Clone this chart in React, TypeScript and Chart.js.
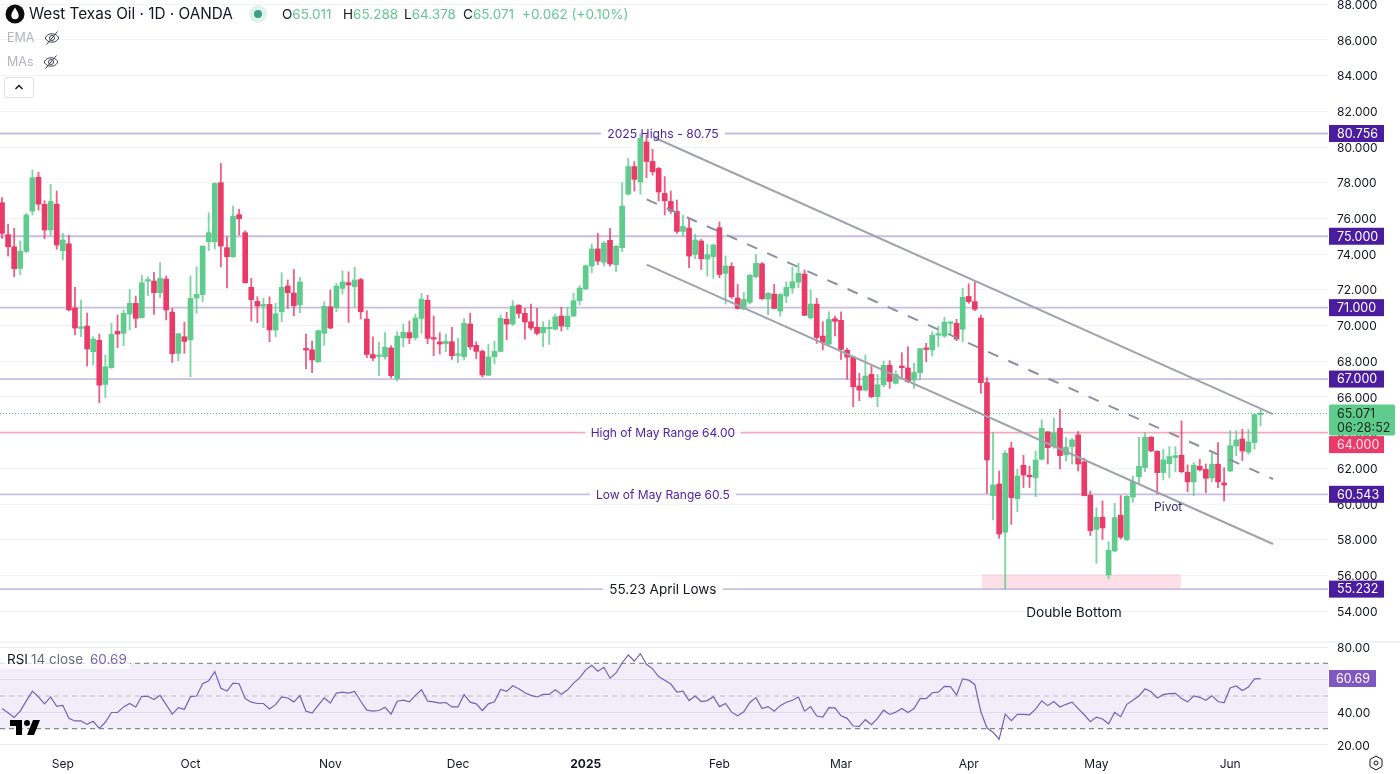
import React, { useEffect, useRef } from "react";
import { Chart, registerables } from "chart.js";

Chart.register(...registerables);

const FONT = "Inter, 'Noto Sans', sans-serif";
const GREEN = "#5fcb8c";
const RED = "#e93a68";
const PURPLE_TAG = "#4a1c9e";

// OHLC per trading day, Aug 2024 - Jun 2025
const opens = [
  76.88, 75.09, 74.41, 73.2, 74.15, 76.41, 78.3, 76.79, 75.35, 76.8,
  74.19, 74.58, 70.98, 69.84, 69.97, 68.53, 69.17, 66.7, 67.64, 69.67,
  69.56, 70.64, 71.24, 70.44, 72.49, 72.49, 71.84, 72.6, 70.75, 68.44,
  69.37, 69.2, 71.54, 71.73, 74.69, 74.69, 78.0, 74.36, 73.85, 76.21,
  75.2, 72.14, 71.35, 71.09, 71.18, 69.75, 70.77, 72.21, 71.82, 71.15,
  68.7, 68.64, 67.97, 69.56, 71.05, 71.0, 72.08, 72.4, 72.18, 72.57,
  70.36, 68.37, 68.27, 68.25, 68.74, 67.04, 69.3, 69.6, 69.32, 70.4,
  71.41, 69.3, 69.08, 68.98, 69.09, 68.33, 68.25, 70.08, 68.89, 68.55,
  67.21, 68.25, 68.55, 70.35, 70.08, 71.13, 70.68, 70.21, 69.9, 69.6,
  69.82, 69.79, 70.53, 69.93, 70.53, 71.39, 72.04, 73.33, 74.29, 73.54,
  74.77, 73.41, 74.36, 77.36, 78.9, 78.04, 80.28, 79.19, 78.8, 77.4,
  76.95, 76.39, 75.27, 75.46, 73.98, 74.73, 73.72, 73.85, 75.48, 72.92,
  73.31, 71.54, 70.92, 71.3, 72.73, 73.46, 71.48, 71.76, 70.81, 71.65,
  72.1, 72.43, 72.88, 70.44, 71.2, 69.41, 68.96, 70.38, 70.29, 68.61,
  68.23, 66.61, 66.38, 67.26, 66.01, 66.68, 67.77, 66.76, 67.73, 67.62,
  66.94, 67.36, 68.72, 68.63, 69.46, 69.41, 70.12, 70.12, 69.79, 71.63,
  71.34, 70.42, 66.8, 60.47, 61.12, 58.42, 63.14, 60.3, 62.17, 61.61,
  61.48, 62.51, 64.04, 63.22, 64.24, 62.75, 63.22, 63.87, 62.36, 60.49,
  58.58, 59.26, 56.03, 57.37, 59.37, 58.0, 60.39, 61.53, 62.04, 63.75,
  62.95, 61.76, 62.26, 62.6, 62.73, 61.78, 61.24, 62.11, 61.94, 61.46,
  62.23, 61.18, 61.85, 63.25, 63.64, 62.91, 63.44, 65.011,
];
const highs = [
  77.16, 75.68, 75.44, 74.75, 76.28, 78.71, 78.58, 76.99, 77.91, 77.53,
  75.16, 75.05, 72.14, 71.43, 70.7, 69.37, 69.52, 68.35, 70.12, 70.59,
  70.87, 72.02, 71.65, 72.81, 72.73, 72.98, 73.52, 72.77, 70.96, 69.56,
  70.18, 72.77, 73.29, 74.47, 76.32, 78.0, 79.08, 74.97, 76.69, 76.51,
  75.31, 72.64, 71.61, 71.52, 71.61, 71.24, 72.96, 72.55, 73.14, 72.7,
  69.52, 69.13, 69.75, 71.33, 71.99, 72.36, 73.07, 73.01, 73.26, 72.64,
  70.83, 69.37, 69.06, 69.6, 68.87, 69.65, 70.08, 70.25, 70.64, 71.8,
  71.69, 70.53, 69.6, 69.52, 69.9, 69.28, 70.38, 70.68, 69.09, 68.63,
  68.94, 69.13, 70.59, 70.74, 71.39, 71.17, 70.96, 71.2, 70.96, 70.21,
  70.31, 70.64, 71.02, 71.02, 71.8, 72.23, 73.39, 74.57, 75.16, 74.7,
  75.44, 74.47, 78.0, 79.36, 79.18, 80.75, 80.67, 79.87, 78.86, 78.34,
  77.53, 77.03, 76.19, 76.0, 75.12, 74.82, 74.56, 74.56, 75.8, 73.89,
  73.52, 72.3, 71.86, 72.88, 73.98, 73.52, 71.86, 72.3, 71.8, 72.45,
  73.26, 73.48, 73.11, 71.99, 71.52, 70.21, 70.77, 70.53, 70.77, 68.72,
  68.25, 67.32, 68.35, 67.73, 67.26, 68.01, 68.03, 67.47, 68.48, 68.81,
  67.88, 68.72, 69.0, 69.65, 69.95, 70.46, 70.2, 70.35, 72.08, 72.33,
  72.44, 70.59, 67.08, 64.02, 61.85, 62.99, 63.46, 61.95, 62.73, 62.13,
  62.97, 64.71, 64.06, 64.82, 65.31, 63.72, 63.68, 64.06, 62.56, 60.73,
  59.8, 60.17, 57.89, 60.04, 60.47, 60.47, 61.57, 63.74, 64.0, 63.77,
  62.99, 63.07, 63.22, 63.22, 64.65, 62.19, 62.32, 62.5, 62.24, 62.84,
  63.44, 62.04, 64.11, 64.11, 64.18, 64.18, 65.05, 65.288,
];
const lows = [
  74.88, 73.89, 72.73, 72.85, 74.08, 76.19, 76.47, 74.86, 75.05, 74.27,
  73.67, 70.81, 69.47, 69.37, 67.73, 67.79, 65.68, 65.97, 67.6, 68.76,
  68.87, 69.75, 69.88, 70.42, 71.67, 70.62, 71.56, 70.31, 67.93, 68.03,
  68.44, 67.13, 70.68, 71.33, 74.19, 74.28, 73.29, 72.1, 73.82, 75.07,
  72.36, 70.25, 70.16, 69.88, 69.09, 69.37, 70.21, 70.96, 70.55, 70.72,
  67.58, 67.36, 67.93, 68.89, 69.82, 70.77, 71.76, 70.18, 71.02, 70.36,
  68.2, 68.03, 67.19, 68.12, 67.06, 66.89, 68.81, 68.98, 69.19, 69.56,
  68.98, 68.31, 68.4, 68.53, 68.1, 67.92, 68.1, 68.66, 68.14, 67.11,
  67.19, 67.84, 68.52, 69.19, 69.99, 70.42, 69.24, 69.75, 69.47, 68.81,
  68.94, 69.75, 69.69, 69.77, 70.49, 71.15, 72.02, 72.96, 73.41, 73.33,
  73.33, 73.02, 74.13, 77.31, 77.53, 77.35, 78.28, 78.43, 76.97, 76.19,
  76.28, 75.16, 75.01, 73.24, 73.74, 73.14, 72.77, 72.64, 72.68, 71.2,
  71.52, 70.92, 70.9, 71.2, 72.66, 71.46, 70.6, 70.92, 70.53, 71.28,
  71.8, 72.12, 70.55, 70.36, 69.0, 68.63, 68.91, 69.41, 68.1, 67.0,
  65.45, 65.79, 66.33, 65.95, 65.45, 66.57, 66.48, 66.72, 67.04, 66.8,
  66.48, 66.98, 67.97, 68.29, 68.81, 69.33, 69.47, 69.15, 69.08, 71.24,
  70.83, 66.2, 60.6, 59.11, 58.08, 55.23, 58.86, 59.57, 60.92, 60.92,
  60.41, 62.47, 62.24, 63.12, 61.96, 62.41, 62.24, 61.85, 60.45, 58.23,
  56.68, 58.02, 55.82, 57.31, 58.04, 57.95, 60.1, 61.12, 61.81, 62.93,
  60.56, 61.35, 61.48, 61.81, 61.76, 60.69, 60.47, 61.85, 60.64, 61.24,
  60.92, 60.17, 61.81, 62.71, 62.43, 62.79, 63.07, 64.378,
];
const closes = [
  75.16, 74.41, 73.18, 74.17, 76.19, 78.28, 76.8, 75.35, 76.95, 74.51,
  74.79, 70.87, 69.86, 69.91, 68.68, 69.24, 66.66, 67.69, 69.5, 69.52,
  70.68, 71.24, 70.4, 72.4, 72.55, 71.84, 72.64, 70.87, 68.42, 69.54,
  69.11, 71.52, 71.74, 74.45, 75.2, 77.96, 74.45, 73.85, 76.13, 75.98,
  72.4, 71.45, 71.09, 71.15, 69.75, 70.66, 72.14, 71.84, 71.11, 72.44,
  68.63, 68.07, 69.71, 71.07, 69.86, 72.21, 72.44, 72.27, 72.55, 70.77,
  68.38, 68.18, 68.31, 68.78, 67.19, 69.41, 69.62, 69.3, 70.42, 71.47,
  69.28, 69.24, 68.96, 69.11, 68.31, 68.37, 70.12, 68.81, 68.55, 67.23,
  68.24, 68.55, 70.4, 70.08, 71.09, 70.68, 70.2, 69.86, 69.56, 69.9,
  69.9, 70.49, 69.97, 70.53, 71.39, 72.1, 73.35, 74.29, 73.61, 74.62,
  73.45, 74.45, 76.69, 78.9, 78.19, 80.48, 79.19, 78.62, 77.48, 76.99,
  76.41, 75.27, 75.55, 73.89, 74.79, 73.74, 73.97, 74.51, 72.86, 73.33,
  71.61, 70.96, 71.46, 72.81, 73.48, 71.5, 71.8, 70.96, 71.74, 72.14,
  72.45, 72.92, 70.57, 71.2, 69.33, 69.05, 70.34, 70.23, 68.66, 68.23,
  66.57, 66.38, 67.17, 66.01, 66.68, 67.77, 66.87, 67.26, 67.64, 66.85,
  67.37, 68.7, 68.66, 69.45, 69.48, 70.19, 70.18, 69.24, 71.58, 71.34,
  70.91, 66.8, 62.47, 61.07, 58.32, 62.84, 60.36, 61.57, 61.63, 61.53,
  62.47, 64.24, 63.16, 63.98, 62.71, 63.18, 63.59, 62.24, 60.47, 58.51,
  59.26, 58.66, 57.41, 59.24, 58.14, 60.43, 61.24, 62.11, 63.74, 62.97,
  61.76, 62.47, 62.66, 62.71, 61.81, 61.24, 62.17, 61.91, 61.44, 62.23,
  61.24, 61.07, 63.27, 63.59, 62.97, 63.48, 65.01, 65.071,
];
const rsiValues = [
  42.3, 39.7, 36.9, 40.7, 47.0, 53.0, 49.4, 45.2, 49.4, 43.7,
  44.3, 36.3, 34.7, 34.7, 32.6, 34.5, 30.2, 33.9, 39.9, 39.9,
  43.3, 45.4, 43.3, 49.8, 49.8, 47.8, 50.4, 44.7, 38.9, 42.9,
  41.9, 49.6, 50.0, 57.5, 59.3, 64.9, 54.7, 53.0, 57.9, 57.5,
  48.4, 46.2, 45.4, 45.4, 42.1, 44.7, 49.4, 48.8, 46.4, 50.2,
  40.7, 39.5, 44.3, 48.8, 45.6, 51.8, 52.4, 51.8, 52.8, 46.8,
  41.3, 40.7, 41.1, 43.1, 38.9, 46.8, 47.4, 46.4, 50.4, 53.8,
  46.8, 46.4, 45.6, 46.0, 43.3, 43.3, 50.8, 46.2, 45.2, 41.1,
  45.2, 46.4, 54.0, 52.8, 56.3, 54.4, 52.0, 50.4, 49.4, 51.0,
  51.0, 53.8, 51.0, 53.6, 57.9, 61.1, 66.0, 68.8, 65.2, 67.6,
  60.9, 64.1, 70.2, 75.1, 71.4, 75.9, 69.4, 66.6, 61.9, 59.7,
  57.3, 52.4, 53.0, 47.2, 50.0, 46.6, 47.2, 49.6, 43.5, 45.4,
  40.1, 37.9, 40.3, 46.0, 49.0, 42.3, 43.5, 40.7, 44.1, 46.2,
  47.4, 49.4, 40.7, 43.5, 37.7, 37.1, 42.9, 42.7, 37.9, 36.3,
  31.6, 31.4, 35.5, 32.4, 36.3, 41.3, 38.7, 40.1, 42.3, 39.9,
  42.3, 48.4, 48.4, 52.0, 52.4, 55.9, 55.7, 50.6, 60.5, 59.7,
  57.1, 40.3, 30.4, 27.8, 23.5, 38.9, 34.9, 38.7, 38.7, 38.5,
  41.9, 47.0, 44.1, 46.6, 43.3, 44.9, 46.2, 42.3, 38.5, 34.3,
  37.1, 35.9, 33.0, 39.9, 37.3, 44.9, 47.4, 50.0, 54.4, 52.6,
  48.8, 50.8, 51.4, 51.6, 48.4, 46.4, 50.0, 49.2, 47.4, 50.2,
  46.6, 45.8, 54.9, 56.1, 53.3, 55.5, 60.5, 60.69,
];

const priceTicks = [54, 56, 58, 60, 62, 64, 66, 68, 70, 72, 74, 76, 78, 80, 82, 84, 86, 88];
const rsiTicks = [20, 40, 60, 80];
const monthBars = [10, 31, 54, 75, 96, 118, 138, 159, 180, 202];
const monthLabels = ["Sep", "Oct", "Nov", "Dec", "2025", "Feb", "Mar", "Apr", "May", "Jun"];

const purpleLevels = [80.756, 75, 71, 67, 60.543, 55.232];
const mayHigh = 64;
const lastClose = 65.071;
const lastRsi = 60.69;

// [bar, price] ends of the hand drawn channel
const upperTrend = [[107.07, 80.56], [209.05, 65.04]];
const midTrend = [[106.03, 77.07], [209.05, 61.4]];
const lowerTrend = [[106.03, 73.41], [209.05, 57.76]];

// bars are 6.08px apart, first one sits 2px in from the left
const xMin = -0.329;
const xMax = 218.09;
const labelBar = 108.7;

const bars = opens.map((_, i) => i);
const hLine = (y: number, from = xMin, to = xMax) => [
  { x: from, y },
  { x: to, y },
];
// level line with a hole where its label sits
const gapLine = (y: number, half: number) => [
  { x: xMin, y },
  { x: labelBar - half, y },
  { x: labelBar, y: null },
  { x: labelBar + half, y },
  { x: xMax, y },
];

const levelGaps: Record<number, number> = { 80.756: 10.2, 60.543: 12, 55.232: 9.9 };

// the default fit reserves room for the outer tick labels, we want the full canvas
const fitAxis = (s: any) => {
  s.width = 72;
  s.paddingTop = 0;
  s.paddingBottom = 0;
};

const text = (ctx: any, s: string, x: number, y: number, font: string, color: string, align = "center") => {
  ctx.font = font;
  ctx.fillStyle = color;
  ctx.textAlign = align;
  ctx.textBaseline = "middle";
  ctx.fillText(s, x, y);
};

const tag = (ctx: any, y: number, s: string, bg: string, color: string, w = 55) => {
  ctx.fillStyle = bg;
  ctx.fillRect(1329, y - 8.5, w, 17);
  text(ctx, s, 1337, y + 0.5, `12.5px ${FONT}`, color, "left");
};

const priceOverlay = {
  id: "priceOverlay",
  afterDraw(chart: any) {
    const { ctx, scales } = chart;
    const px = (b: number) => scales.x.getPixelForValue(b);
    const py = (p: number) => scales.y.getPixelForValue(p) + 0.8;
    ctx.save();
    const purple = "#4f23a8";
    text(ctx, "2025 Highs - 80.75", px(labelBar), py(80.756), `12.2px ${FONT}`, purple);
    text(ctx, "High of May Range 64.00", px(labelBar), py(mayHigh), `12px ${FONT}`, purple);
    text(ctx, "Low of May Range 60.5", px(labelBar), py(60.543), `12px ${FONT}`, purple);
    text(ctx, "55.23 April Lows", px(labelBar), py(55.232), `13.5px ${FONT}`, "#131722");
    text(ctx, "Double Bottom", px(176.3), py(53.95), `13.7px ${FONT}`, "#131722");
    text(ctx, "Pivot", px(191.8), py(59.83), `12px ${FONT}`, "#2b2f6b");

    purpleLevels.forEach((p) => tag(ctx, py(p) - 0.8, p.toFixed(3), PURPLE_TAG, "#fff"));
    tag(ctx, py(mayHigh) + 11.2, mayHigh.toFixed(3), RED, "#ffe3ea");
    const y = py(lastClose);
    ctx.fillStyle = GREEN;
    ctx.beginPath();
    ctx.roundRect(1329, y - 9.8, 66, 31, 2);
    ctx.fill();
    text(ctx, lastClose.toFixed(3), 1337, y, `12.5px ${FONT}`, "#0c2c18", "left");
    text(ctx, "06:28:52", 1337, y + 14, `12.5px ${FONT}`, "#0c2c18", "left");
    ctx.restore();
  },
};

const rsiOverlay = {
  id: "rsiOverlay",
  afterDraw(chart: any) {
    const y = chart.scales.y.getPixelForValue(lastRsi);
    const { ctx } = chart;
    ctx.save();
    ctx.fillStyle = "#7e57c2";
    ctx.fillRect(1329, y - 8.5, 47, 17);
    text(ctx, lastRsi.toFixed(2), 1336, y + 0.5, `12.5px ${FONT}`, "#fff", "left");
    ctx.restore();
  },
};

const trendLines = (trend: any) => [
  trend(upperTrend),
  trend(midTrend, { borderDash: [11, 11], borderColor: "#8c90a0" }),
  trend(lowerTrend),
];

const PriceChart = () => {
  const ref = useRef<HTMLCanvasElement>(null);
  useEffect(() => {
    const trendStyle = { type: "line", pointRadius: 0, borderColor: "#a0a3ad", borderWidth: 2, order: 0 };
    const trend = (pts: number[][], extra = {}) => ({
      ...trendStyle,
      data: pts.map(([x, y]) => ({ x, y })),
      ...extra,
    });
    const colors = closes.map((c, i) => (c >= opens[i] ? GREEN : RED));
    const wickColors = closes.map((c, i) => (c >= opens[i] ? "rgba(95,203,140,.8)" : "rgba(233,58,104,.8)"));
    const chart = new Chart(ref.current as any, {
      type: "bar",
      data: {
        datasets: [
          ...trendLines(trend),
          {
            data: bars.map((x) => ({ x, y: [opens[x], closes[x]] })),
            backgroundColor: colors,
            barThickness: 5,
            minBarLength: 1.5,
            grouped: false,
            order: 2,
          },
          {
            data: bars.map((x) => ({ x, y: [lows[x], highs[x]] })),
            backgroundColor: wickColors,
            barThickness: 1.2,
            grouped: false,
            order: 3,
          },
          ...purpleLevels.map((p) => ({
            type: "line",
            data: levelGaps[p] ? gapLine(p, levelGaps[p]) : hLine(p),
            borderColor: "#c8bde2",
            borderWidth: 1.8,
            pointRadius: 0,
            spanGaps: false,
            order: 5,
          })),
          {
            type: "line",
            data: gapLine(mayHigh, 12.8),
            borderColor: "#f3aabd",
            borderWidth: 1.6,
            pointRadius: 0,
            order: 5,
          },
          {
            type: "line",
            data: hLine(lastClose),
            borderColor: "#45c47c",
            borderWidth: 1,
            borderDash: [1, 2],
            pointRadius: 0,
            order: 5,
          },
          {
            // pink double bottom zone
            type: "line",
            data: hLine(56.06, 161.2, 193.9),
            borderWidth: 0,
            pointRadius: 0,
            fill: { value: 55.232 },
            backgroundColor: "rgba(242,54,105,.16)",
            order: 6,
          },
        ] as any,
      },
      options: {
        responsive: false,
        animation: false,
        events: [],
        layout: { padding: 0, autoPadding: false },
        plugins: { legend: { display: false }, tooltip: { enabled: false } },
        scales: {
          x: { type: "linear", display: false, min: xMin, max: xMax, offset: false, bounds: "data", grid: { display: false } },
          y: {
            position: "right",
            min: 52.27,
            max: 88.235,
            bounds: "data",
            afterBuildTicks: (s: any) => {
              s.ticks = priceTicks.map((value) => ({ value }));
            },
            afterFit: fitAxis,
            grid: { color: "#f2f3f6", drawTicks: false },
            border: { display: false },
            ticks: {
              padding: 9,
              labelOffset: 1,
              autoSkip: false,
              color: "#131722",
              font: { family: FONT, size: 12 },
              callback: (v: any) => Number(v).toFixed(3),
            },
          },
        } as any,
      },
      plugins: [priceOverlay],
    } as any);
    return () => chart.destroy();
  }, []);
  return <canvas ref={ref} width={1400} height={642} style={{ position: "absolute", left: 0, top: 0 }} />;
};

const RsiChart = () => {
  const ref = useRef<HTMLCanvasElement>(null);
  useEffect(() => {
    const dashed = (y: number, color: string) => ({
      type: "line",
      data: hLine(y),
      borderColor: color,
      borderWidth: 1.2,
      borderDash: [5, 4],
      pointRadius: 0,
      order: 3,
    });
    const chart = new Chart(ref.current as any, {
      type: "line",
      data: {
        datasets: [
          {
            data: bars.map((x) => ({ x, y: rsiValues[x] })),
            borderColor: "#7363b4",
            borderWidth: 1.2,
            pointRadius: 0,
            tension: 0,
            order: 1,
          },
          dashed(70, "#8f9099"),
          dashed(50, "#bdbec6"),
          dashed(30, "#85868f"),
          {
            data: hLine(70),
            borderWidth: 0,
            pointRadius: 0,
            fill: { value: 30 },
            backgroundColor: "rgba(126,87,194,.1)",
            order: 5,
          },
        ] as any,
      },
      options: {
        responsive: false,
        animation: false,
        events: [],
        layout: { padding: 0, autoPadding: false },
        plugins: { legend: { display: false }, tooltip: { enabled: false } },
        scales: {
          x: {
            type: "linear",
            min: xMin,
            max: xMax,
            bounds: "data",
            afterBuildTicks: (s: any) => {
              s.ticks = monthBars.map((value) => ({ value }));
            },
            afterFit: (s: any) => {
              s.height = 22;
              s.paddingLeft = 0;
              s.paddingRight = 0;
            },
            grid: { display: false, drawTicks: false },
            border: { display: false },
            ticks: {
              padding: 5,
              autoSkip: false,
              maxRotation: 0,
              color: "#131722",
              font: (c: any) => ({
                family: FONT,
                size: 12,
                weight: c.tick && c.tick.value === 96 ? "bold" : "normal",
              }),
              callback: (v: any) => monthLabels[monthBars.indexOf(Number(v))],
            },
          },
          y: {
            position: "right",
            min: 15.7,
            max: 82.45,
            bounds: "data",
            afterBuildTicks: (s: any) => {
              s.ticks = rsiTicks.map((value) => ({ value }));
            },
            afterFit: fitAxis,
            grid: { color: "#ecebf2", drawTicks: false },
            border: { display: false },
            ticks: {
              padding: 9,
              labelOffset: 1,
              autoSkip: false,
              color: "#131722",
              font: { family: FONT, size: 12 },
              callback: (v: any) => Number(v).toFixed(2),
            },
          },
        } as any,
      },
      plugins: [rsiOverlay],
    } as any);
    return () => chart.destroy();
  }, []);
  return <canvas ref={ref} width={1400} height={131} style={{ position: "absolute", left: 0, top: 643 }} />;
};

const Label = ({ x, y, size = 13.5, color = "#131722", children }: any) => (
  <span
    style={{
      position: "absolute",
      left: x,
      top: y - 10,
      lineHeight: "20px",
      fontSize: size,
      color,
      whiteSpace: "nowrap",
    }}
  >
    {children}
  </span>
);

const EyeOff = ({ x, y }: any) => (
  <svg width="18" height="18" viewBox="0 0 18 18" style={{ position: "absolute", left: x - 9, top: y - 9 }} fill="none" stroke="#3f434e" strokeWidth="1">
    <path d="M2 9C3.8 6 6 4.8 9 4.8S14.2 6 16 9C14.200 12 12 13.200 9 13.200S3.800 12 2 9Z" />
    <circle cx="9" cy="9" r="2.5" />
    <path d="M14.500 2.500L3.500 15.500" />
  </svg>
);

const App = () => {
  const up = "#63c792";
  return (
    <div style={{ position: "absolute", left: 0, top: 0, width: 1400, height: 774, background: "#fff", overflow: "hidden", fontFamily: FONT }}>
      <PriceChart />
      <div style={{ position: "absolute", left: 0, top: 641, width: 1400, height: 2, background: "#f0f3fa" }} />
      <RsiChart />

      <svg width="20" height="20" viewBox="0 0 20 20" style={{ position: "absolute", left: 5, top: 4 }}>
        <circle cx="10" cy="10" r="9.5" fill="#0b0b0b" />
        <path d="M10 3.5C12.2 7 13.7 9 13.7 11.5A3.7 3.7 0 0 1 6.3 11.5C6.3 9 7.8 7 10 3.5Z" fill="#fff" />
      </svg>
      <Label x={29} y={14} size={15.3}>West Texas Oil · 1D · OANDA</Label>
      <div style={{ position: "absolute", left: 249, top: 5, width: 18, height: 18, borderRadius: 9, background: "#dff3ec" }} />
      <div style={{ position: "absolute", left: 254, top: 10, width: 8, height: 8, borderRadius: 4, background: "#3f9f86" }} />
      <Label x={282} y={14}>O<span style={{ color: up }}>65.011</span></Label>
      <Label x={343} y={14}>H<span style={{ color: up }}>65.288</span></Label>
      <Label x={404} y={14}>L<span style={{ color: up }}>64.378</span></Label>
      <Label x={463} y={14}>C<span style={{ color: up }}>65.071</span></Label>
      <Label x={522} y={14} color={up}>+0.062 (+0.10%)</Label>

      <Label x={7} y={38} size={12.5} color="#b2b5bc">EMA</Label>
      <EyeOff x={52} y={38} />
      <Label x={7} y={62} size={12.5} color="#b2b5bc">MAs</Label>
      <EyeOff x={51} y={62} />
      <div style={{ position: "absolute", left: 4, top: 77, width: 28, height: 19, border: "1px solid #dfe1e6", borderRadius: 3, background: "#fff" }}>
        <svg width="28" height="19" viewBox="0 0 28 19">
          <path d="M10.5 11L14 7.5L17.5 11" fill="none" stroke="#131722" strokeWidth="1.5" />
        </svg>
      </div>

      <div style={{ position: "absolute", left: 0, top: 650, width: 130, height: 19, background: "rgba(255,255,255,.75)" }} />
      <Label x={7} y={659}>RSI</Label>
      <Label x={31} y={659} color="#6a6d78">14 close</Label>
      <Label x={90} y={659} color="#7363b4">60.69</Label>

      <svg width="30" height="15" viewBox="2 6 30 15" style={{ position: "absolute", left: 10, top: 720 }}>
        <path d="M14 6H2v6h6v9h6V6Zm12 15h-7l6-15h7l-6 15Zm-7-9a3 3 0 1 0 0-6 3 3 0 0 0 0 6Z" fill="#000" />
      </svg>
      <svg width="16" height="16" viewBox="0 0 16 16" style={{ position: "absolute", left: 1368, top: 755 }} fill="none" stroke="#131722" strokeWidth="1">
        <path d="M8 1L14 4.5V11.5L8 15L2 11.5V4.5Z" />
        <circle cx="8" cy="8" r="2" />
      </svg>
    </div>
  );
};

export default App;
